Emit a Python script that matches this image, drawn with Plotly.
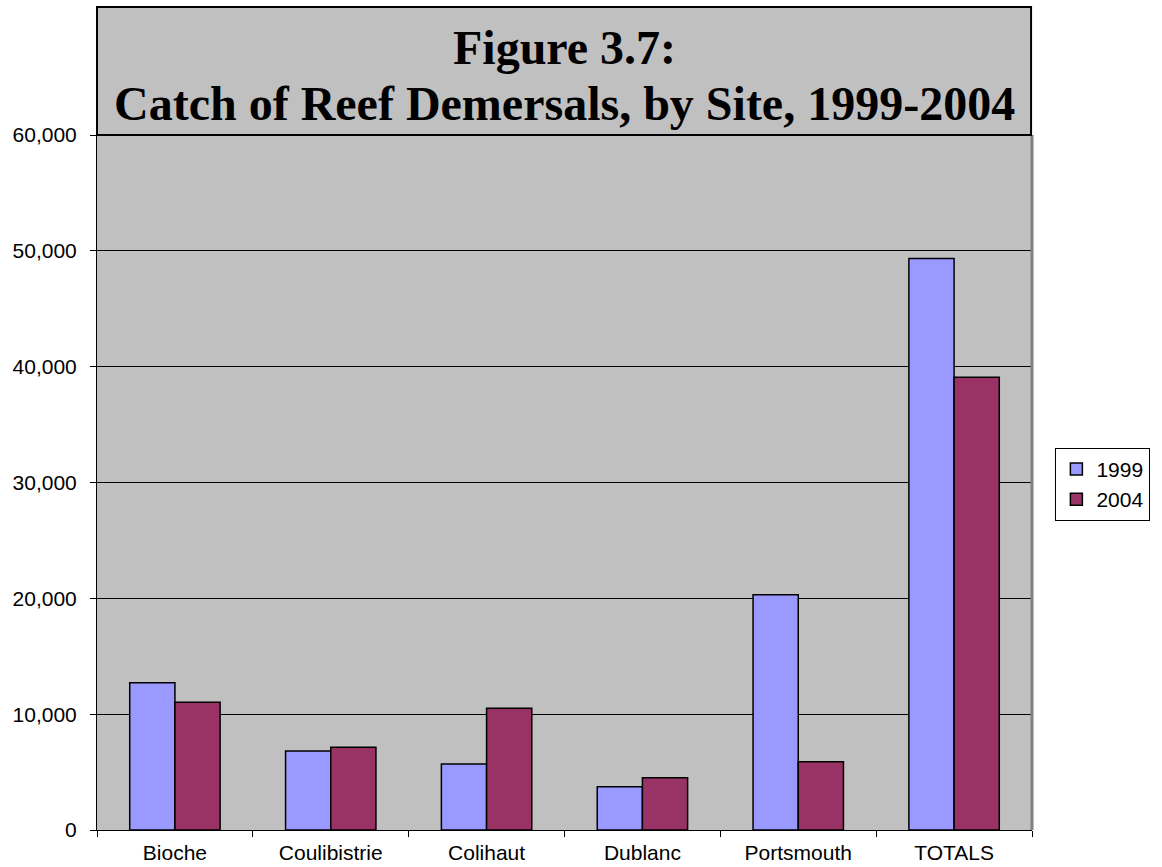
import plotly.graph_objects as go

sites = ["Bioche", "Coulibistrie", "Colihaut", "Dublanc", "Portsmouth", "TOTALS"]
catch_1999 = [12720, 6820, 5700, 3740, 20320, 49330]
catch_2004 = [11030, 7140, 10510, 4520, 5900, 39090]
series_names = ["1999", "2004"]
y_ticks = [0, 10000, 20000, 30000, 40000, 50000, 60000]
title_line1 = "Figure 3.7:"
title_line2 = "Catch of Reef Demersals, by Site, 1999-2004"

fig = go.Figure()
fig.add_trace(go.Bar(x=sites, y=catch_1999, name=series_names[0],
                     marker=dict(color="#9999FF", line=dict(color="black", width=1.5))))
fig.add_trace(go.Bar(x=sites, y=catch_2004, name=series_names[1],
                     marker=dict(color="#993366", line=dict(color="black", width=1.5))))

tick_font = dict(family="Liberation Sans, Arial, sans-serif", size=21, color="black")

fig.update_layout(
    width=1162, height=867,
    margin=dict(l=97, r=114, t=135, b=37),
    paper_bgcolor="white",
    plot_bgcolor="#C0C0C0",
    barmode="group",
    bargap=0.42,
    bargroupgap=0,
    showlegend=True,
    legend=dict(x=1.025, y=0.55, xanchor="left", yanchor="top",
                bgcolor="white", bordercolor="black", borderwidth=1,
                font=dict(family="Liberation Sans, Arial, sans-serif", size=21, color="black"),
                itemwidth=30, tracegroupgap=0),
    xaxis=dict(showline=True, linecolor="black", linewidth=1,
               ticks="outside", ticklen=6, tickcolor="black", tickson="boundaries",
               tickfont=tick_font, showgrid=False, ticklabelstandoff=4, automargin=False),
    yaxis=dict(range=[0, 60000], tickvals=y_ticks, tickformat=",",
               showline=True, linecolor="black", linewidth=1,
               ticks="outside", ticklen=6, tickcolor="black",
               showgrid=True, gridcolor="black", gridwidth=1,
               tickfont=tick_font, zeroline=False, ticklabelstandoff=9, automargin=False),
    shapes=[
        dict(type="line", xref="paper", yref="paper", x0=1.0, x1=1.0, y0=0, y1=1,
             line=dict(color="#808080", width=3), layer="above"),
        dict(type="rect", xref="paper", yref="paper", x0=0, x1=0.999, y0=1.0, y1=1.184,
             fillcolor="#C0C0C0", line=dict(color="black", width=2), layer="above"),
    ],
    annotations=[
        dict(text="<b>%s</b>" % title_line1, xref="paper", yref="paper", x=0.4995, y=1.1266,
             xanchor="center", yanchor="middle", showarrow=False,
             font=dict(family="Liberation Serif, Times New Roman, serif", size=48, color="black")),
        dict(text="<b>%s</b>" % title_line2, xref="paper", yref="paper", x=0.4995, y=1.046,
             xanchor="center", yanchor="middle", showarrow=False,
             font=dict(family="Liberation Serif, Times New Roman, serif", size=48, color="black")),
    ],
)

fig.write_html("out.html")
